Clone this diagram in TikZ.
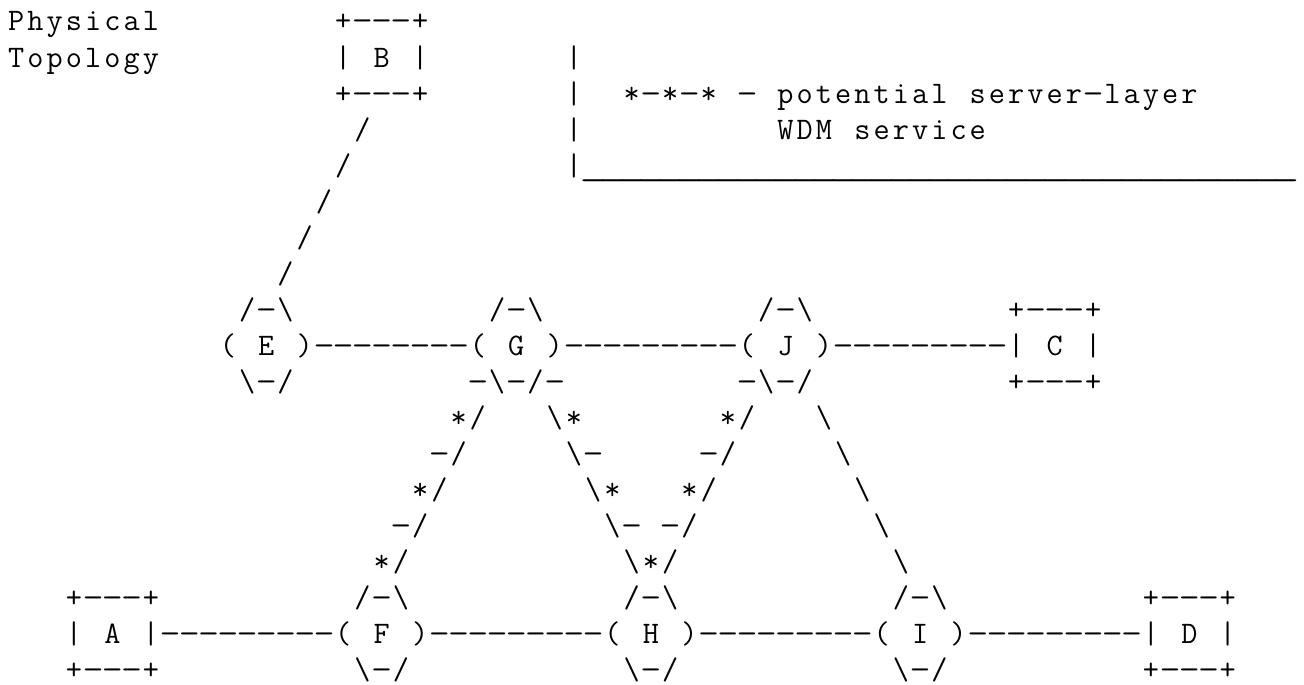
\documentclass[tikz,border=0pt]{standalone}
\usepackage{graphicx}
\newlength\cw
\setlength\cw{14.4225pt}
\def\cellend{CELLEND}
\def\cellrow#1{\cellnext#1\cellend}
\def\cellglyph#1{\ifx#1-\scalebox{1.3}[1]{-}\else#1\fi}
\def\cellnext#1{\ifx#1\cellend\else\makebox[\cw][c]{\cellglyph{#1}}\expandafter\cellnext\fi}
\newcommand\asbs{\textbackslash}
\newcommand\asus{\scalebox{1.7}[1]{\textunderscore}}
\tikzset{asc/.style={anchor=base west, inner sep=0pt, outer sep=0pt, font=\ttfamily\fontsize{23.5}{27}\selectfont}}
\newcommand\putcells[4]{\node[asc] (#1) at ({6.7+#2*19.23},{31+(#3-1)*36.05}) {\cellrow{#4}};}
\begin{document}
\begin{tikzpicture}[x=0.75pt,y=-0.75pt]
\useasboundingbox (0,0) rectangle (1304,685);
\fill[white] (0,0) rectangle (1304,685);
% line 1-5: B and legend
\putcells{phys}{0}{1}{Physical}
\putcells{Bt}{17}{1}{+---+}
\putcells{topo}{0}{2}{Topology}
\putcells{B}{17}{2}{|~B~|}
\putcells{lg2}{29}{2}{|}
\putcells{Bb}{17}{3}{+---+}
\putcells{lg3}{29}{3}{|}
\putcells{lgt1}{32}{3}{*-*-*~-~potential~server-layer}
\putcells{sB4}{18}{4}{/}
\putcells{lg4}{29}{4}{|}
\putcells{lgt2}{40}{4}{WDM~service}
\putcells{sB5}{17}{5}{/}
\putcells{lg5}{29}{5}{|\asus\asus\asus\asus\asus\asus\asus\asus\asus\asus\asus\asus\asus\asus\asus\asus\asus\asus\asus\asus\asus\asus\asus\asus\asus\asus\asus\asus\asus\asus\asus\asus\asus\asus\asus\asus\asus}
\putcells{sB6}{16}{6}{/}
\putcells{sB7}{15}{7}{/}
\putcells{sB8}{14}{8}{/}
% line 9-11: E G J C
\putcells{Et}{12}{9}{/-\asbs}
\putcells{Gt}{25}{9}{/-\asbs}
\putcells{Jt}{39}{9}{/-\asbs}
\putcells{Ct}{52}{9}{+---+}
\putcells{E}{11}{10}{(~E~)}
\putcells{lEG}{16}{10}{--------}
\putcells{G}{24}{10}{(~G~)}
\putcells{lGJ}{29}{10}{---------}
\putcells{J}{38}{10}{(~J~)}
\putcells{lJC}{43}{10}{---------}
\putcells{C}{52}{10}{|~C~|}
\putcells{Eb}{12}{11}{\asbs-/}
\putcells{Gb}{24}{11}{-\asbs-/-}
\putcells{Jb}{38}{11}{-\asbs-/}
\putcells{Cb}{52}{11}{+---+}
% diagonals
\putcells{dFGa}{23}{12}{*/}
\putcells{dGHa}{28}{12}{\asbs*}
\putcells{dJHa}{37}{12}{*/}
\putcells{dJIa}{42}{12}{\asbs}
\putcells{dFGb}{22}{13}{-/}
\putcells{dGHb}{29}{13}{\asbs-}
\putcells{dJHb}{36}{13}{-/}
\putcells{dJIb}{43}{13}{\asbs}
\putcells{dFGc}{21}{14}{*/}
\putcells{dGHc}{30}{14}{\asbs*}
\putcells{dJHc}{35}{14}{*/}
\putcells{dJIc}{44}{14}{\asbs}
\putcells{dFGd}{20}{15}{-/}
\putcells{dGHd}{31}{15}{\asbs-}
\putcells{dJHd}{34}{15}{-/}
\putcells{dJId}{45}{15}{\asbs}
\putcells{dFGe}{19}{16}{*/}
\putcells{dHe}{32}{16}{\asbs*/}
\putcells{dJIe}{46}{16}{\asbs}
% line 17-19: A F H I D
\putcells{At}{3}{17}{+---+}
\putcells{Ft}{18}{17}{/-\asbs}
\putcells{Ht}{32}{17}{/-\asbs}
\putcells{It}{46}{17}{/-\asbs}
\putcells{Dt}{59}{17}{+---+}
\putcells{A}{3}{18}{|~A~|}
\putcells{lAF}{8}{18}{---------}
\putcells{F}{17}{18}{(~F~)}
\putcells{lFH}{22}{18}{---------}
\putcells{H}{31}{18}{(~H~)}
\putcells{lHI}{36}{18}{---------}
\putcells{I}{45}{18}{(~I~)}
\putcells{lID}{50}{18}{---------}
\putcells{D}{59}{18}{|~D~|}
\putcells{Ab}{3}{19}{+---+}
\putcells{Fb}{18}{19}{\asbs-/}
\putcells{Hb}{32}{19}{\asbs-/}
\putcells{Ib}{46}{19}{\asbs-/}
\putcells{Db}{59}{19}{+---+}
\end{tikzpicture}
\end{document}
